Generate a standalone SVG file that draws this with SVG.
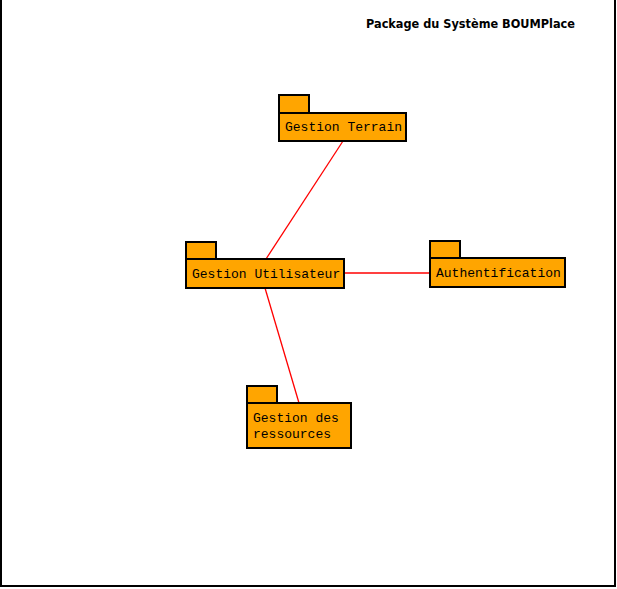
<svg xmlns="http://www.w3.org/2000/svg" width="617" height="589" viewBox="0 0 617 589">
<style>
.pkg{fill:#FFA500;stroke:#000;stroke-width:2}
.lbl{font-family:"Liberation Mono","Courier New",monospace;font-size:13px;fill:#000}
.ln{stroke:#FF0000;stroke-width:1.3;fill:none}
.title{font-family:"DejaVu Sans",Verdana,sans-serif;font-weight:bold;font-size:12px;fill:#000}
</style>
<rect x="1" y="-2" width="614" height="588" fill="#fff" stroke="#000" stroke-width="2"/>
<text class="title" x="366" y="28" textLength="209" lengthAdjust="spacingAndGlyphs">Package du Système BOUMPlace</text>
<g id="connectors">
<line class="ln" x1="343" y1="141" x2="266" y2="259"/>
<line class="ln" x1="344" y1="273" x2="430" y2="273"/>
<line class="ln" x1="265" y1="288" x2="299" y2="403"/>
</g>
<g id="gestion-terrain">
<rect class="pkg" x="279" y="95" width="30" height="18"/>
<rect class="pkg" x="279" y="113" width="127" height="28"/>
<text class="lbl" x="285" y="131">Gestion Terrain</text>
</g>
<g id="gestion-utilisateur">
<rect class="pkg" x="186" y="242" width="30" height="17"/>
<rect class="pkg" x="186" y="259" width="158" height="29"/>
<text class="lbl" x="192" y="278">Gestion Utilisateur</text>
</g>
<g id="authentification">
<rect class="pkg" x="430" y="241" width="30" height="17"/>
<rect class="pkg" x="430" y="258" width="135" height="29"/>
<text class="lbl" x="436" y="277">Authentification</text>
</g>
<g id="gestion-ressources">
<rect class="pkg" x="247" y="386" width="30" height="17"/>
<rect class="pkg" x="247" y="403" width="104" height="45"/>
<text class="lbl" x="253" y="422">Gestion des</text>
<text class="lbl" x="253" y="438">ressources</text>
</g>
</svg>
